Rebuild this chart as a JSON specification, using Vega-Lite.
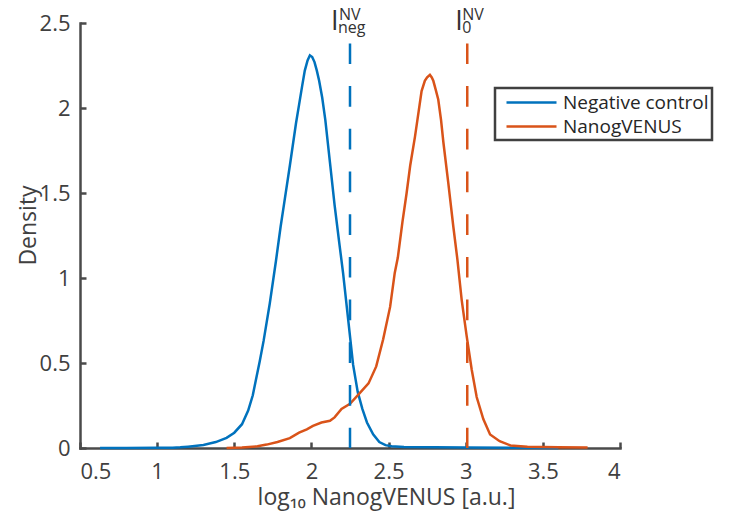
{
  "$schema": "https://vega.github.io/schema/vega-lite/v6.json",
  "width": 540,
  "height": 425,
  "autosize": {"type": "none"},
  "padding": {"left": 80, "top": 23, "right": 109, "bottom": 71},
  "background": "white",
  "config": {
    "font": "Open Sans",
    "view": {"stroke": null},
    "axis": {
      "grid": false,
      "domainColor": "#4a4a4a",
      "domainWidth": 2.5,
      "domainCap": "square",
      "tickColor": "#4a4a4a",
      "tickWidth": 2.5,
      "tickSize": -6,
      "labelFont": "Open Sans",
      "labelFontSize": 22,
      "labelColor": "#404040",
      "titleFont": "Open Sans",
      "titleFontSize": 23,
      "titleFontWeight": "normal",
      "titleColor": "#404040"
    },
    "legend": {
      "orient": "none",
      "legendX": 415,
      "legendY": 65,
      "labelFont": "Open Sans",
      "labelFontSize": 19,
      "labelColor": "#262626",
      "symbolType": "M-2.5,0H2.5",
      "symbolSize": 400,
      "symbolStrokeWidth": 2.5,
      "strokeColor": "#404040",
      "padding": 3,
      "rowPadding": 2,
      "labelOffset": 20,
      "symbolOffset": 22
    }
  },
  "datasets": {
    "thresholds": [
      {"series": "Negative control", "value": 2.25, "name": "I", "sup": "NV", "sub": "neg"},
      {"series": "NanogVENUS", "value": 3.01, "name": "I", "sup": "NV", "sub": "0"}
    ],
    "curves": [
      {"series": "Negative control", "x": 0.63, "density": 0.0},
      {"series": "Negative control", "x": 0.8, "density": 0.0005},
      {"series": "Negative control", "x": 1.0, "density": 0.001},
      {"series": "Negative control", "x": 1.1, "density": 0.002},
      {"series": "Negative control", "x": 1.15, "density": 0.004},
      {"series": "Negative control", "x": 1.2, "density": 0.008},
      {"series": "Negative control", "x": 1.3, "density": 0.018},
      {"series": "Negative control", "x": 1.38, "density": 0.035},
      {"series": "Negative control", "x": 1.45, "density": 0.06},
      {"series": "Negative control", "x": 1.5, "density": 0.09},
      {"series": "Negative control", "x": 1.55, "density": 0.14},
      {"series": "Negative control", "x": 1.59, "density": 0.22},
      {"series": "Negative control", "x": 1.62, "density": 0.31},
      {"series": "Negative control", "x": 1.64, "density": 0.4},
      {"series": "Negative control", "x": 1.665, "density": 0.51},
      {"series": "Negative control", "x": 1.69, "density": 0.63},
      {"series": "Negative control", "x": 1.73, "density": 0.85},
      {"series": "Negative control", "x": 1.77, "density": 1.1},
      {"series": "Negative control", "x": 1.8, "density": 1.3},
      {"series": "Negative control", "x": 1.82, "density": 1.42},
      {"series": "Negative control", "x": 1.86, "density": 1.66},
      {"series": "Negative control", "x": 1.9, "density": 1.91},
      {"series": "Negative control", "x": 1.92, "density": 2.02},
      {"series": "Negative control", "x": 1.94, "density": 2.13},
      {"series": "Negative control", "x": 1.957, "density": 2.22},
      {"series": "Negative control", "x": 1.975, "density": 2.28},
      {"series": "Negative control", "x": 1.99, "density": 2.31},
      {"series": "Negative control", "x": 2.005, "density": 2.3},
      {"series": "Negative control", "x": 2.02, "density": 2.27},
      {"series": "Negative control", "x": 2.035, "density": 2.22},
      {"series": "Negative control", "x": 2.05, "density": 2.16},
      {"series": "Negative control", "x": 2.07, "density": 2.06},
      {"series": "Negative control", "x": 2.09, "density": 1.93},
      {"series": "Negative control", "x": 2.12, "density": 1.68},
      {"series": "Negative control", "x": 2.15, "density": 1.43},
      {"series": "Negative control", "x": 2.18, "density": 1.21},
      {"series": "Negative control", "x": 2.205, "density": 1.03},
      {"series": "Negative control", "x": 2.24, "density": 0.74},
      {"series": "Negative control", "x": 2.27, "density": 0.49},
      {"series": "Negative control", "x": 2.3, "density": 0.33},
      {"series": "Negative control", "x": 2.33, "density": 0.23},
      {"series": "Negative control", "x": 2.36, "density": 0.15},
      {"series": "Negative control", "x": 2.4, "density": 0.08},
      {"series": "Negative control", "x": 2.44, "density": 0.035},
      {"series": "Negative control", "x": 2.48, "density": 0.017},
      {"series": "Negative control", "x": 2.52, "density": 0.01},
      {"series": "Negative control", "x": 2.6, "density": 0.006},
      {"series": "Negative control", "x": 2.8, "density": 0.004},
      {"series": "Negative control", "x": 3.0, "density": 0.003},
      {"series": "Negative control", "x": 3.3, "density": 0.001},
      {"series": "Negative control", "x": 3.6, "density": 0.0},
      {"series": "NanogVENUS", "x": 1.45, "density": 0.0},
      {"series": "NanogVENUS", "x": 1.55, "density": 0.003},
      {"series": "NanogVENUS", "x": 1.65, "density": 0.01},
      {"series": "NanogVENUS", "x": 1.71, "density": 0.02},
      {"series": "NanogVENUS", "x": 1.78, "density": 0.035},
      {"series": "NanogVENUS", "x": 1.86, "density": 0.058},
      {"series": "NanogVENUS", "x": 1.92, "density": 0.09},
      {"series": "NanogVENUS", "x": 1.97, "density": 0.11},
      {"series": "NanogVENUS", "x": 2.01, "density": 0.13},
      {"series": "NanogVENUS", "x": 2.065, "density": 0.15},
      {"series": "NanogVENUS", "x": 2.12, "density": 0.16},
      {"series": "NanogVENUS", "x": 2.15, "density": 0.18},
      {"series": "NanogVENUS", "x": 2.195, "density": 0.23},
      {"series": "NanogVENUS", "x": 2.25, "density": 0.26},
      {"series": "NanogVENUS", "x": 2.31, "density": 0.32},
      {"series": "NanogVENUS", "x": 2.37, "density": 0.38},
      {"series": "NanogVENUS", "x": 2.42, "density": 0.48},
      {"series": "NanogVENUS", "x": 2.465, "density": 0.64},
      {"series": "NanogVENUS", "x": 2.51, "density": 0.83},
      {"series": "NanogVENUS", "x": 2.54, "density": 1.03},
      {"series": "NanogVENUS", "x": 2.56, "density": 1.12},
      {"series": "NanogVENUS", "x": 2.59, "density": 1.33},
      {"series": "NanogVENUS", "x": 2.617, "density": 1.5},
      {"series": "NanogVENUS", "x": 2.64, "density": 1.66},
      {"series": "NanogVENUS", "x": 2.671, "density": 1.83},
      {"series": "NanogVENUS", "x": 2.695, "density": 1.98},
      {"series": "NanogVENUS", "x": 2.714, "density": 2.1},
      {"series": "NanogVENUS", "x": 2.735, "density": 2.16},
      {"series": "NanogVENUS", "x": 2.75, "density": 2.18},
      {"series": "NanogVENUS", "x": 2.768, "density": 2.195},
      {"series": "NanogVENUS", "x": 2.78, "density": 2.18},
      {"series": "NanogVENUS", "x": 2.79, "density": 2.16},
      {"series": "NanogVENUS", "x": 2.805, "density": 2.11},
      {"series": "NanogVENUS", "x": 2.822, "density": 2.05},
      {"series": "NanogVENUS", "x": 2.84, "density": 1.93},
      {"series": "NanogVENUS", "x": 2.855, "density": 1.8},
      {"series": "NanogVENUS", "x": 2.887, "density": 1.56},
      {"series": "NanogVENUS", "x": 2.92, "density": 1.3},
      {"series": "NanogVENUS", "x": 2.946, "density": 1.11},
      {"series": "NanogVENUS", "x": 2.974, "density": 0.87},
      {"series": "NanogVENUS", "x": 3.006, "density": 0.66},
      {"series": "NanogVENUS", "x": 3.039, "density": 0.46},
      {"series": "NanogVENUS", "x": 3.071, "density": 0.3},
      {"series": "NanogVENUS", "x": 3.114, "density": 0.17},
      {"series": "NanogVENUS", "x": 3.158, "density": 0.08},
      {"series": "NanogVENUS", "x": 3.22, "density": 0.04},
      {"series": "NanogVENUS", "x": 3.29, "density": 0.015},
      {"series": "NanogVENUS", "x": 3.4, "density": 0.008},
      {"series": "NanogVENUS", "x": 3.6, "density": 0.005},
      {"series": "NanogVENUS", "x": 3.79, "density": 0.003}
    ]
  },
  "layer": [
    {
      "data": {"name": "curves"},
      "mark": {"type": "line", "strokeWidth": 2.5},
      "encoding": {
        "x": {
          "field": "x",
          "type": "quantitative",
          "scale": {"domain": [0.5, 4], "nice": false, "zero": false},
          "axis": {
            "title": "log₁₀ NanogVENUS [a.u.]",
            "values": [0.5, 1, 1.5, 2, 2.5, 3, 3.5, 4],
            "format": "~g",
            "labelPadding": 19,
            "titleBaseline": "alphabetic",
            "titleX": 306,
            "titleY": 56
          }
        },
        "y": {
          "field": "density",
          "type": "quantitative",
          "scale": {"domain": [0, 2.5], "nice": false},
          "axis": {
            "title": "Density",
            "values": [0, 0.5, 1, 1.5, 2, 2.5],
            "format": "~g",
            "labelPadding": 16,
            "titleAngle": -90,
            "titleBaseline": "alphabetic",
            "titleAlign": "center",
            "titleX": -45,
            "titleY": 202
          }
        },
        "color": {
          "field": "series",
          "type": "nominal",
          "scale": {"domain": ["Negative control", "NanogVENUS"], "range": ["#0072BD", "#D95319"]},
          "legend": {
            "title": null,
            "encode": {"legend": {"update": {"strokeWidth": {"value": 2.5}}}}
          }
        },
        "order": {"field": "x", "type": "quantitative"}
      }
    },
    {
      "data": {"name": "thresholds"},
      "mark": {"type": "rule", "strokeWidth": 2.5, "strokeDash": [20.7, 22]},
      "encoding": {
        "x": {"field": "value", "type": "quantitative"},
        "y": {"datum": 2.38},
        "y2": {"datum": 0},
        "color": {"field": "series", "type": "nominal"}
      }
    },
    {
      "data": {"name": "thresholds"},
      "transform": [{"filter": "datum.sub === 'neg'"}],
      "layer": [
        {
          "mark": {"type": "text", "fontSize": 27, "align": "left", "baseline": "alphabetic", "dx": -19, "dy": 7, "color": "#333333"},
          "encoding": {"text": {"field": "name"}}
        },
        {
          "mark": {"type": "text", "fontSize": 16, "align": "left", "baseline": "alphabetic", "dx": -11, "dy": -3, "color": "#333333"},
          "encoding": {"text": {"field": "sup"}}
        },
        {
          "mark": {"type": "text", "fontSize": 16, "align": "left", "baseline": "alphabetic", "dx": -12, "dy": 10, "color": "#333333"},
          "encoding": {"text": {"field": "sub"}}
        }
      ],
      "encoding": {
        "x": {"field": "value", "type": "quantitative"},
        "y": {"datum": 2.5}
      }
    },
    {
      "data": {"name": "thresholds"},
      "transform": [{"filter": "datum.sub === '0'"}],
      "layer": [
        {
          "mark": {"type": "text", "fontSize": 27, "align": "left", "baseline": "alphabetic", "dx": -12, "dy": 7, "color": "#333333"},
          "encoding": {"text": {"field": "name"}}
        },
        {
          "mark": {"type": "text", "fontSize": 16, "align": "left", "baseline": "alphabetic", "dx": -5, "dy": -3, "color": "#333333"},
          "encoding": {"text": {"field": "sup"}}
        },
        {
          "mark": {"type": "text", "fontSize": 16, "align": "left", "baseline": "alphabetic", "dx": -5, "dy": 10, "color": "#333333"},
          "encoding": {"text": {"field": "sub"}}
        }
      ],
      "encoding": {
        "x": {"field": "value", "type": "quantitative"},
        "y": {"datum": 2.5}
      }
    }
  ]
}
